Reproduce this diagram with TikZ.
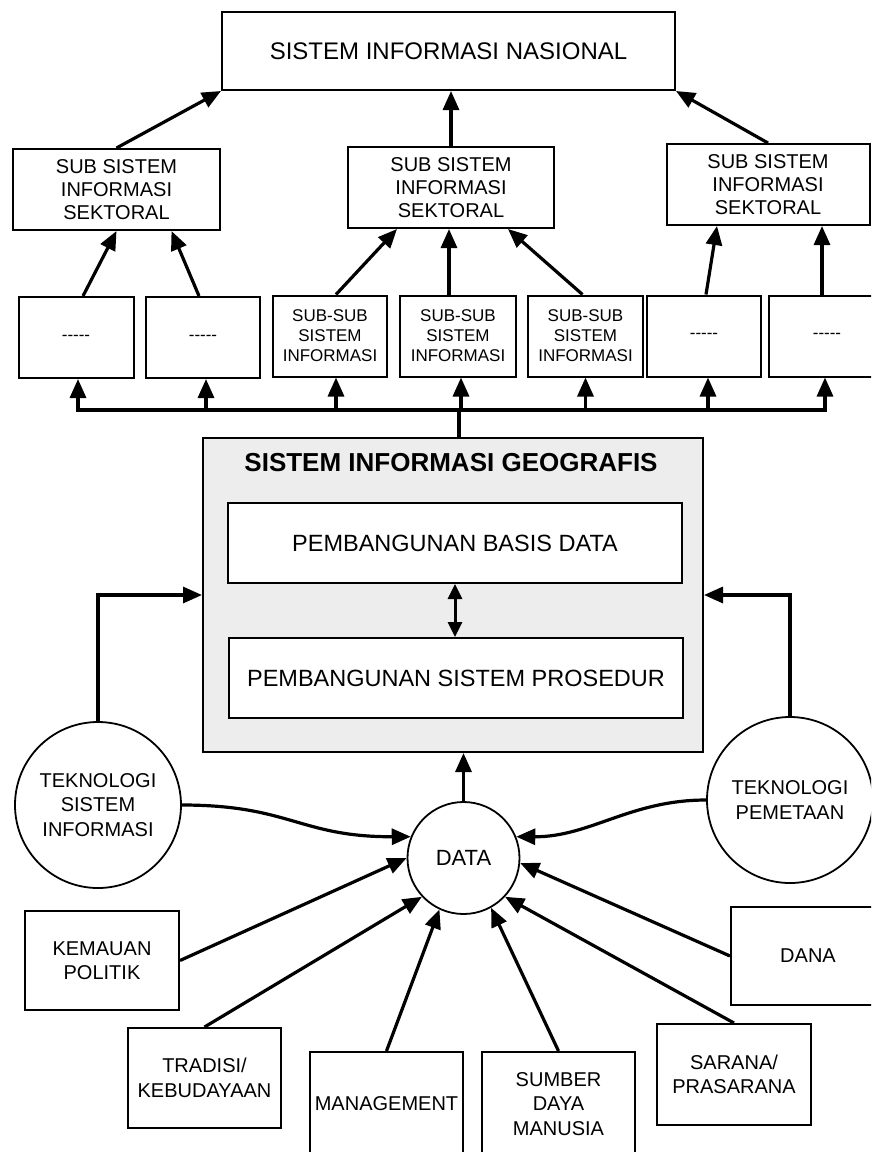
\documentclass[tikz,border=0pt]{standalone}
\usepackage{fontspec}
\setmainfont{Liberation Sans}
\usetikzlibrary{arrows.meta,calc}
\newcommand{\fsz}[2]{\fontsize{#1}{#2}\selectfont}
\newcommand{\dashes}{-{}-{}-{}-{}-}
\begin{document}
\begin{tikzpicture}[x=1pt,y=-1pt,
  bx/.style={draw,line width=2pt,rectangle,align=center,inner sep=0pt},
  ss/.style={bx,minimum width=207pt,minimum height=81pt,font=\fsz{20}{23}},
  sss/.style={bx,minimum width=115pt,minimum height=81pt,font=\fsz{17}{20}},
  bb/.style={bx,minimum width=154pt,minimum height=100pt,font=\fsz{20}{24.5}},
  circ/.style={draw,circle,line width=1.8pt,inner sep=0pt,align=center},
  arr/.style={line width=3.2pt,-{Triangle[length=19pt,width=16pt]}},
  dbl/.style={line width=3pt,{Triangle[length=15pt,width=14pt]}-{Triangle[length=15pt,width=14pt]}},
  bus/.style={line width=3.2pt,line cap=rect}]
\useasboundingbox (0,0) rectangle (871,1152);
\clip (0,0) rectangle (871,1152);
\fill[white] (0,0) rectangle (871,1152);

% top level
\node[bx,minimum width=453pt,minimum height=78pt,font=\fsz{24}{28}] (SIN) at (448.5,51) {SISTEM INFORMASI NASIONAL};

\node[ss] (SS1) at (116.5,189.5) {SUB SISTEM\\INFORMASI\\SEKTORAL};
\node[ss,minimum width=206pt] (SS2) at (451,187.5) {SUB SISTEM\\INFORMASI\\SEKTORAL};
\node[ss,minimum width=203pt] (SS3) at (768,184.5) {SUB SISTEM\\INFORMASI\\SEKTORAL};

\node[sss] (SSS1) at (76,337.5) {\dashes};
\node[sss,minimum width=114pt] (SSS2) at (203,337.5) {\dashes};
\node[sss,minimum width=114pt] (SSS3) at (330,336) {SUB-SUB\\SISTEM\\INFORMASI};
\node[sss,minimum width=116pt] (SSS4) at (458,336) {SUB-SUB\\SISTEM\\INFORMASI};
\node[sss] (SSS5) at (585.5,336) {SUB-SUB\\SISTEM\\INFORMASI};
\node[sss,minimum width=114pt] (SSS6) at (704,336) {\dashes};
\node[sss,minimum width=116pt] (SSS7) at (827,336) {\dashes};

\draw[arr] (SS1.north) -- (SIN.south west);
\draw[arr] (SS2.north) -- (SS2.north |- SIN.south);
\draw[arr] (SS3.north) -- (SIN.south east);

\draw[arr] ($(SSS1.north)+(7,0)$) -- (SS1.south);
\draw[arr] ($(SSS2.north)+(-4,0)$) -- ($(SS1.south)+(55,0)$);
\draw[arr] ($(SSS3.north)+(6,0)$) -- ($(SS2.south)+(-54,0)$);
\draw[arr] ($(SSS4.north)+(-9,0)$) -- ($(SS2.south)+(-2,0)$);
\draw[arr] ($(SSS5.north)+(-3,0)$) -- ($(SS2.south)+(57,0)$);
\draw[arr] ($(SSS6.north)+(2,0)$) -- ($(SS3.south)+(-51,0)$);
\draw[arr] ($(SSS7.north)+(-5,0)$) -- ($(SS3.south)+(54,0)$);

% GIS block
\node[draw,line width=2pt,fill=black!7,minimum width=500pt,minimum height=314pt,inner sep=0pt] (GIS) at (453,595) {};
\node[font=\bfseries\fsz{26}{30}] (GIST) at (451,463) {SISTEM INFORMASI GEOGRAFIS};
\node[bx,fill=white,minimum width=454pt,minimum height=80pt,font=\fsz{23.5}{28}] (PBD) at (455,543) {PEMBANGUNAN BASIS DATA};
\node[bx,fill=white,minimum width=454pt,minimum height=80pt,font=\fsz{23.5}{28}] (PSP) at (456,678) {PEMBANGUNAN SISTEM PROSEDUR};
\draw[dbl] (PBD.south) -- (PBD.south |- PSP.north);

% bus
\coordinate (busL) at (78,410);
\coordinate (busR) at (825,410);
\draw[bus] (busL) -- (busR);
\draw[bus] ($(GIS.north)+(6,0)$) -- ($(GIS.north |- busL)+(6,0)$);
\foreach \n/\dx in {SSS1/2,SSS2/3,SSS3/6,SSS4/3,SSS5/0,SSS6/4,SSS7/-2}
  \draw[arr] ($(\n.south |- busL)+(\dx,0)$) -- ($(\n.south)+(\dx,0)$);

% circles
\node[circ,minimum size=166pt,font=\fsz{20}{24.5}] (TSI) at (98,805) {TEKNOLOGI\\SISTEM\\INFORMASI};
\node[circ,minimum size=166pt,font=\fsz{20}{24.5}] (TP) at (790,800) {TEKNOLOGI\\PEMETAAN};
\node[circ,minimum size=112pt,font=\fsz{22}{26}] (DATA) at (463.5,858) {DATA};

\draw[arr] (TSI.north) |- (GIS.west);
\draw[arr] (TP.north) |- (GIS.east);
\draw[arr] (DATA.north) -- (DATA.north |- GIS.south);

\draw[arr] (TSI.east) .. controls (290,805) and (300,837) .. (DATA.158);
\draw[arr] (TP.west) .. controls (630,800) and (590,837) .. (DATA.22);

% bottom boxes
\node[bb,minimum height=99pt] (KP) at (102,960.5) {KEMAUAN\\POLITIK};
\node[bb,minimum width=153pt] (TK) at (204.5,1078) {TRADISI/\\KEBUDAYAAN};
\node[bb,minimum width=153pt,minimum height=104pt] (MG) at (386.5,1104) {MANAGEMENT};
\node[bb,minimum width=153pt,minimum height=104pt] (SDM) at (558.5,1104) {SUMBER\\DAYA\\MANUSIA};
\node[bb,minimum height=101pt] (SP) at (734,1074.5) {SARANA/\\PRASARANA};
\node[bb,minimum height=98pt] (DANA) at (808,956) {DANA};

\draw[arr] (KP.east) -- (DATA.180);
\draw[arr] (TK.north) -- (DATA.223);
\draw[arr] (MG.north) -- (DATA.245);
\draw[arr] (SDM.north) -- (DATA.299);
\draw[arr] (SP.north) -- (DATA.317);
\draw[arr] (DANA.west) -- (DATA.355);
\end{tikzpicture}
\end{document}
